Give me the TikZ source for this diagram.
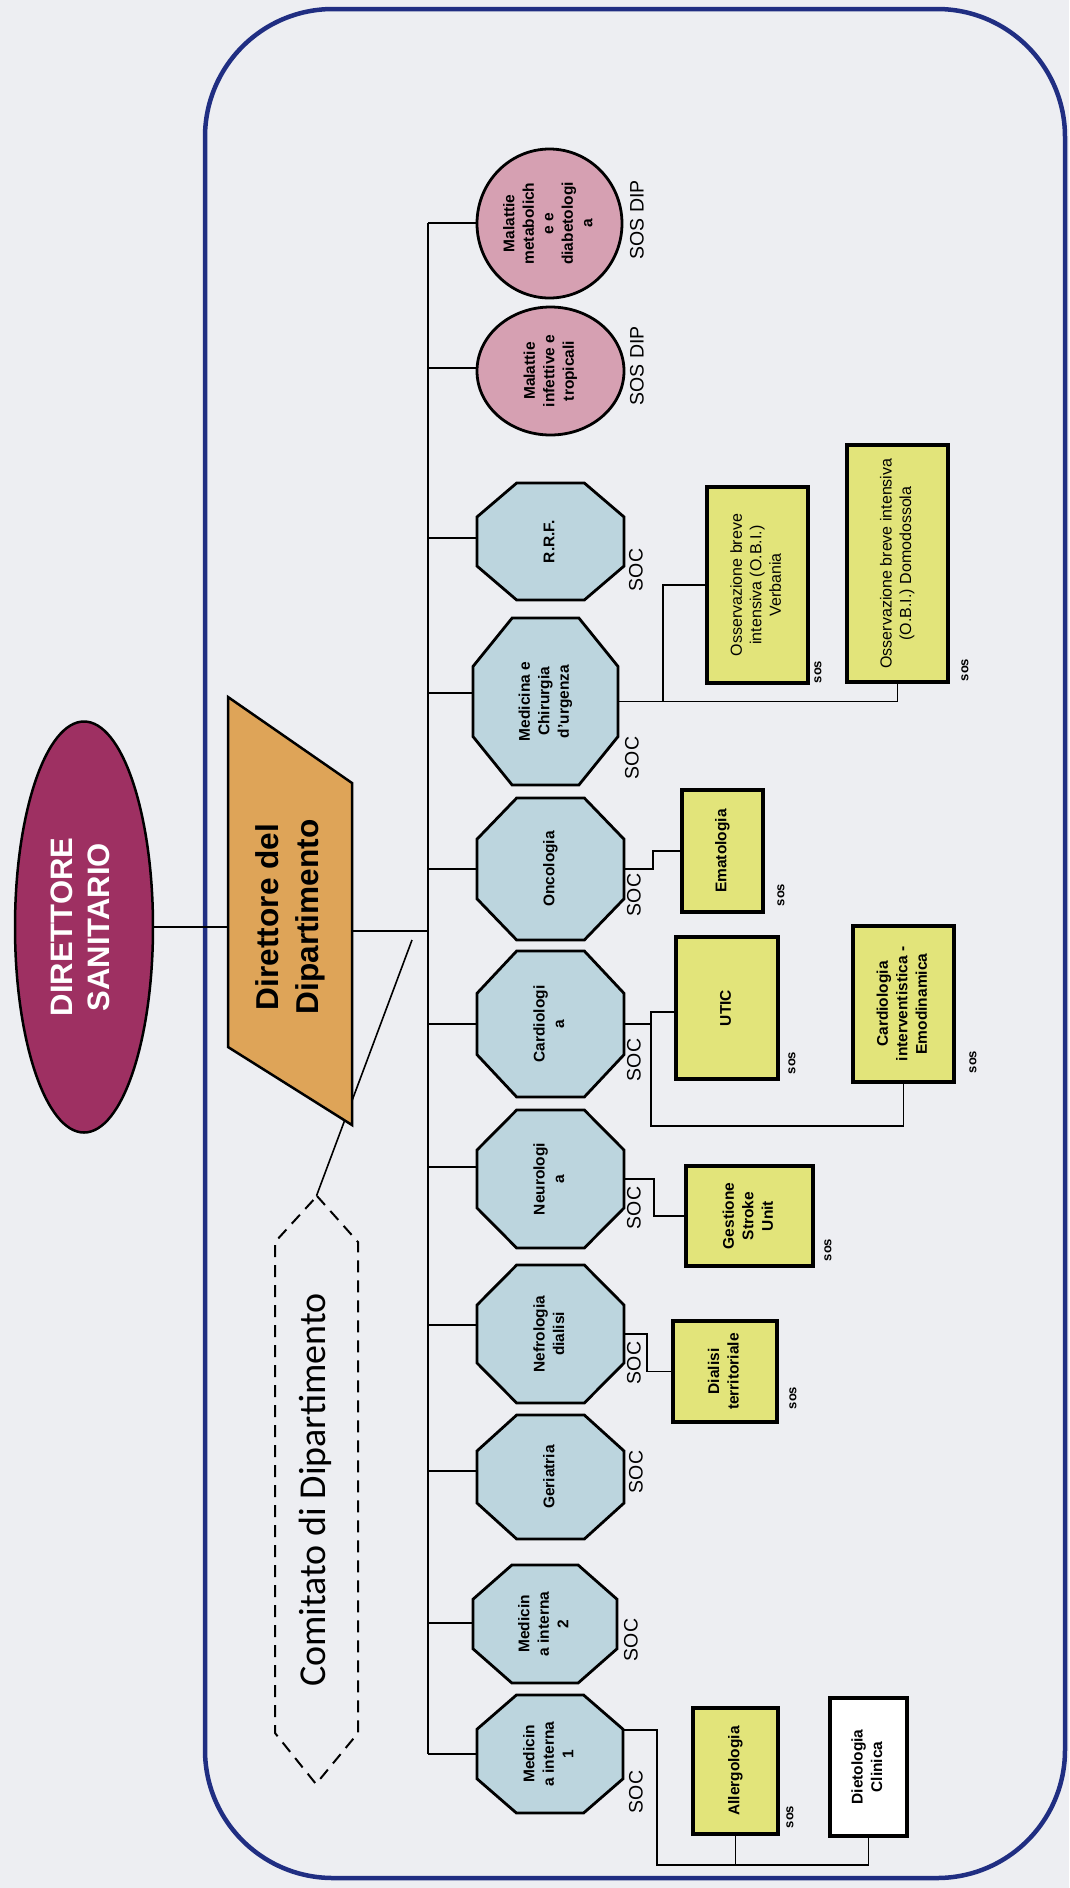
\documentclass[tikz,border=0pt]{standalone}
\usepackage{fontspec}
\setmainfont{Liberation Sans}
\newfontfamily\calib{Carlito}
\usepackage{graphicx}
\usetikzlibrary{calc,shapes.geometric}

\definecolor{bgcol}{RGB}{237,238,242}
\definecolor{framecol}{RGB}{32,46,130}
\definecolor{dscol}{RGB}{158,48,98}
\definecolor{ddcol}{RGB}{222,164,88}
\definecolor{octcol}{RGB}{188,213,222}
\definecolor{circcol}{RGB}{214,160,178}
\definecolor{yelcol}{RGB}{226,228,122}

\newcommand\vt[1]{\rotatebox{90}{\begin{tabular}{@{}c@{}}#1\end{tabular}}}

\tikzset{
 conn/.style={draw=black, line width=1.8pt},
 octshape/.style={fill=octcol, draw=black, line width=2.8pt, line join=miter},
 octtext/.style={rectangle, inner sep=0pt, font=\bfseries\fontsize{15.5}{19.5}\selectfont},
 circnode/.style={ellipse, fill=circcol, draw=black, line width=2.8pt, inner sep=0pt, font=\bfseries\fontsize{15.5}{19.5}\selectfont},
 ybox/.style={rectangle, fill=yelcol, draw=black, line width=3.5pt, inner sep=0pt, font=\bfseries\fontsize{15.5}{19.5}\selectfont},
 wbox/.style={ybox, fill=white},
 obifont/.style={font=\mdseries\fontsize{16}{19.5}\selectfont},
 soclab/.style={inner sep=0pt, font=\fontsize{19.5}{22}\selectfont},
 soslab/.style={inner sep=0pt, font=\bfseries\fontsize{13}{15}\selectfont},
 framestyle/.style={draw=framecol, line width=4.5pt, rounded corners=128pt},
 dashhex/.style={draw=black, line width=2pt, dash pattern=on 12pt off 8pt},
}

\newcommand\octo[6]{%
 \pgfmathsetmacro\octX{0.27*#4}\pgfmathsetmacro\octY{0.29*#5}%
 \filldraw[octshape] ({#2-#4/2+\octX},{#3-#5/2}) -- ({#2+#4/2-\octX},{#3-#5/2}) -- ({#2+#4/2},{#3-#5/2+\octY}) -- ({#2+#4/2},{#3+#5/2-\octY}) -- ({#2+#4/2-\octX},{#3+#5/2}) -- ({#2-#4/2+\octX},{#3+#5/2}) -- ({#2-#4/2},{#3+#5/2-\octY}) -- ({#2-#4/2},{#3-#5/2+\octY}) -- cycle;
 \node[octtext, minimum width=#4pt, minimum height=#5pt] (#1) at (#2,#3) {\vt{#6}};
}

\begin{document}
\begin{tikzpicture}[x=1pt,y=-1pt]
\useasboundingbox (0,0) rectangle (1069,1888);
\fill[bgcol] (0,0) rectangle (1069,1888);

% outer frame
\draw[framestyle] (205,9) rectangle (1065,1878);

% Direttore sanitario
\node[ellipse, fill=dscol, draw=black, line width=2.5pt, minimum width=138pt, minimum height=411pt, inner sep=0pt, text=white, font=\bfseries\fontsize{31}{37}\selectfont] (dirsan) at (84,927) {\vt{DIRETTORE\\SANITARIO}};

% Comitato di Dipartimento
\node[inner sep=0pt, minimum width=83pt, minimum height=588pt, font=\calib\fontsize{38}{44}\selectfont] (comit) at (316.5,1490) {\vt{Comitato di Dipartimento}};
\draw[dashhex] (317,1196) -- (358,1242) -- (358,1733) -- (316,1784) -- (275,1733) -- (275,1242) -- cycle;
\coordinate (cfree) at (412,940);
\draw[conn, line width=1.6pt] (comit.north) -- (cfree);

% Direttore del Dipartimento
\filldraw[fill=ddcol, draw=black, line width=2.5pt] (228,697) -- (352,783) -- (352,1125) -- (228,1047) -- cycle;
\node[inner sep=0pt, minimum width=124pt, minimum height=300pt, font=\bfseries\fontsize{31.6}{40}\selectfont] (dirdip) at (290,917) {\vt{Direttore del\\Dipartimento}};

\coordinate (bus) at (428,931);
\draw[conn] (dirsan.east) -- (dirsan.east -| dirdip.west);
\draw[conn] (dirdip.east |- bus) -- (bus);

% SOS DIP circles
\node[circnode, minimum width=145pt, minimum height=149pt] (metab) at (549.5,223.5) {\vt{Malattie\\metabolich\\e e\\diabetologi\\a}};
\node[circnode, minimum width=147pt, minimum height=128pt] (infet) at (550.5,371) {\vt{Malattie\\infettive e\\tropicali}};

% SOC octagons
\octo{rrf}{550.5}{541.5}{147}{117}{R.R.F.}
\octo{medchir}{545.5}{701.5}{145}{167}{Medicina e\\Chirurgia\\d’urgenza}
\octo{onc}{550.5}{869}{147}{142}{Oncologia}
\octo{card}{550.5}{1024}{147}{146}{Cardiologi\\a}
\octo{neuro}{550.5}{1179}{147}{138}{Neurologi\\a}
\octo{nefro}{550.5}{1334}{147}{138}{Nefrologia\\dialisi}
\octo{geri}{550.5}{1477}{147}{124}{Geriatria}
\octo{mi2}{545}{1624}{144}{118}{Medicin\\a interna\\2}
\octo{mi1}{550}{1754}{146}{118}{Medicin\\a interna\\1}

% bus and branches
\foreach \n/\y in {metab/223,infet/368,rrf/538,medchir/693,onc/869,card/1024,neuro/1167,nefro/1325,geri/1471,mi2/1623,mi1/1754}{
  \coordinate (b\n) at (428,\y);
  \draw[conn] (b\n) -- (b\n -| \n.west);
}
\draw[conn] (bmetab) -- (bmi1);

% SOS boxes
\node[ybox, minimum width=81pt, minimum height=122pt] (emat) at (722.5,851) {\vt{Ematologia}};
\node[ybox, minimum width=102pt, minimum height=142pt] (utic) at (727,1008) {\vt{UTIC}};
\node[ybox, minimum width=101pt, minimum height=156pt] (cardint) at (903.5,1004) {\vt{Cardiologia\\interventistica -\\Emodinamica}};
\node[ybox, obifont, minimum width=101pt, minimum height=196pt] (verb) at (757.5,585) {\vt{Osservazione breve\\intensiva (O.B.I.)\\Verbania}};
\node[ybox, obifont, minimum width=101pt, minimum height=237pt] (domo) at (897.5,563.5) {\vt{Osservazione breve intensiva\\(O.B.I.) Domodossola}};
\node[ybox, minimum width=127pt, minimum height=100pt] (gest) at (749.5,1216) {\vt{Gestione\\Stroke\\Unit}};
\node[ybox, minimum width=104pt, minimum height=101pt] (dial) at (725,1371.5) {\vt{Dialisi\\territoriale}};
\node[ybox, minimum width=85pt, minimum height=126pt] (allerg) at (735.5,1771) {\vt{Allergologia}};
\node[wbox, minimum width=77pt, minimum height=138pt] (diet) at (868.5,1767) {\vt{Dietologia\\Clinica}};

% sub-unit connectors
\draw[conn] (onc.east) -- ++(29,0) |- (emat.west);
\coordinate (cj) at (651,1012);
\coordinate (cb) at (651,1126);
\draw[conn] (card.east) -| (cj) -- (cj -| utic.west);
\draw[conn] (cj) -- (cb) -| (cardint.south);
\draw[conn] (medchir.east) -| (domo.south);
\coordinate (mj) at (663,701.5);
\draw[conn] (mj) |- (verb.west);
\draw[conn] (neuro.east) -- ++(30,0) |- (gest.west);
\draw[conn] (nefro.east) -- ++(23,0) |- (dial.west);
\coordinate (mr) at (657,1865);
\draw[conn] ($(mi1.east)+(0,-24)$) -| (mr) -| (diet.south);
\draw[conn] (allerg.south) -- (allerg.south |- mr);

% labels
\node[soclab] (sdip1) at (637,220) {\rotatebox{90}{SOS DIP}};
\node[soclab] (sdip2) at (637,366) {\rotatebox{90}{SOS DIP}};
\foreach \n/\x/\y in {rrf/636/570, medchir/632/758, onc/634/895, card/634/1060, neuro/634/1208, nefro/634/1363, geri/636/1472, mi2/631/1640, mi1/636/1792}{
  \node[soclab] (soc\n) at (\x,\y) {\rotatebox{90}{SOC}};
}
\foreach \n/\x/\y in {emat/781/895, utic/792/1063, cardint/973/1062, verb/818/672, domo/965/670, gest/828/1250, dial/793/1398, allerg/790/1817}{
  \node[soslab] (sos\n) at (\x,\y) {\rotatebox{90}{sos}};
}
\end{tikzpicture}
\end{document}
